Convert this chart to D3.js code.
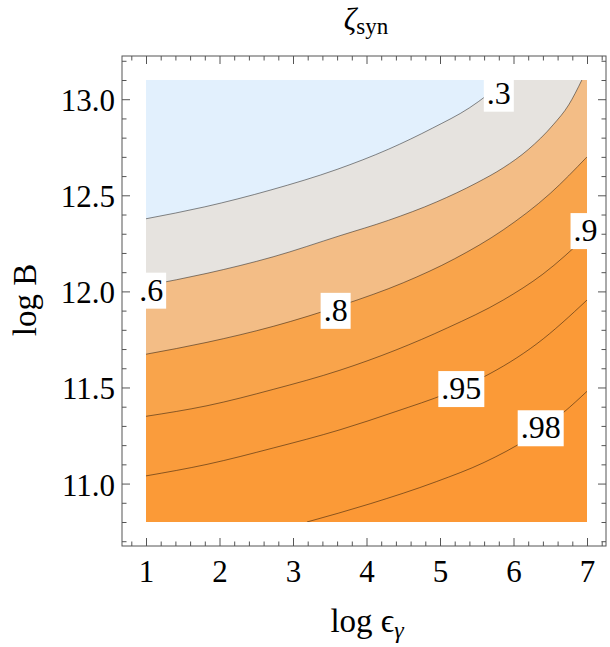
<!DOCTYPE html>
<html>
<head>
<meta charset="utf-8">
<script src="https://cdn.jsdelivr.net/npm/d3@7"></script>
<style>
body{margin:0;background:#fff;}
text{font-family:"Liberation Serif","DejaVu Serif",serif;}
</style>
</head>
<body>
<script>
// contour levels and the fill colour below each one (region with zeta < level)
var levels=[0.3,0.6,0.8,0.9,0.95,0.98]
var bandColors=["#e2f0fd","#e6e3df","#f3bd86","#f9a44b","#fa9c3c","#fb9a37"]
var topColor="#fc9835"

// contour lines, [log eps, log B]
var line30=[[1,12.378],[1.8,12.44],[2.7,12.528],[3.6,12.635],[4.3,12.74],[4.9,12.85],[5.4,12.955],[5.9,13.1]]
var line60=[[1,12.03],[1.83,12.094],[2.73,12.18],[3.64,12.29],[4.3,12.37],[4.95,12.465],[5.5,12.565],[5.86,12.643],[6.2,12.738],[6.54,12.867],[6.75,12.97],[6.93,13.1]]
var line80=[[1,11.673],[1.83,11.735],[2.73,11.818],[3.68,11.93],[4.5,12.045],[5.2,12.17],[5.86,12.32],[6.5,12.51],[7,12.70]]
var line90=[[1,11.35],[1.83,11.405],[2.73,11.49],[3.64,11.59],[4.4,11.695],[5.1,11.81],[5.86,11.955],[6.4,12.09],[7,12.29]]
var line95=[[1,11.04],[1.83,11.10],[2.73,11.185],[3.64,11.28],[4.4,11.375],[5.1,11.47],[5.59,11.554],[6.32,11.728],[7,11.955]]
var line98=[[3.19,10.8],[4.05,10.895],[4.95,11.01],[5.6,11.11],[6.2,11.235],[6.68,11.37],[7,11.48]]
var contourLines=[line30,line60,line80,line90,line95,line98]

var labelText=[".3",".6",".8",".9",".95",".98"]
var labelX=[5.80,1.07,3.58,6.98,5.29,6.37]
var labelY=[13.035,12.01,11.905,12.32,11.498,11.294]

var xTicks=[1,2,3,4,5,6,7]
var yTicks=[11.0,11.5,12.0,12.5,13.0]

var screen={width:610,height:647}
var frame={left:122,right:606,top:56,bottom:546}
var xScale=d3.scaleLinear().domain([1,7]).range([146,587])
var yScale=d3.scaleLinear().domain([10.8,13.1]).range([522,80])

var svg=d3.select("body").append("svg")
          .attr("width",screen.width)
          .attr("height",screen.height)

svg.append("clipPath").attr("id","plotClip")
   .append("rect")
   .attr("x",xScale(1)).attr("y",yScale(13.1))
   .attr("width",xScale(7)-xScale(1))
   .attr("height",yScale(10.8)-yScale(13.1))

var plotLand=svg.append("g").attr("clip-path","url(#plotClip)")

var lineGen=d3.line()
              .x(function(d){return xScale(d[0]);})
              .y(function(d){return yScale(d[1]);})
              .curve(d3.curveMonotoneX)

// area on the low side (up-left) of a contour line
var bandPath=function(pts){
  var p=lineGen(pts)
  var last=pts[pts.length-1], first=pts[0]
  if(last[0]>=7&&last[1]<13.1){p+="L"+xScale(7)+","+yScale(13.1)}
  p+="L"+xScale(1)+","+yScale(13.1)
  if(first[0]>1){p+="L"+xScale(1)+","+yScale(10.8)}
  return p+"Z"}

plotLand.append("rect")
        .attr("x",xScale(1)).attr("y",yScale(13.1))
        .attr("width",xScale(7)-xScale(1))
        .attr("height",yScale(10.8)-yScale(13.1))
        .attr("fill",topColor)

// paint from the highest level down so lower bands sit on top
var order=d3.range(levels.length).reverse()
plotLand.selectAll("path.band")
        .data(order)
        .enter()
        .append("path")
        .classed("band",true)
        .attr("d",function(i){return bandPath(contourLines[i]);})
        .attr("fill",function(i){return bandColors[i];})

plotLand.selectAll("path.cline")
        .data(contourLines)
        .enter()
        .append("path")
        .classed("cline",true)
        .attr("d",function(d){return lineGen(d);})
        .attr("fill","none")
        .attr("stroke","#000")
        .attr("stroke-opacity",0.5)
        .attr("stroke-width",0.9)

// contour labels on white boxes
var labels=svg.append("g").selectAll("g")
              .data(labelText)
              .enter()
              .append("g")
              .attr("transform",function(d,i){return "translate("+xScale(labelX[i])+","+yScale(labelY[i])+")";})
labels.append("rect").attr("fill","#fff")
labels.append("text")
      .attr("text-anchor","middle")
      .attr("dy","0.35em")
      .attr("font-size",32)
      .attr("fill","#000")
      .text(function(d){return d;})
labels.each(function(){
  var g=d3.select(this)
  var b=g.select("text").node().getBBox()
  g.select("rect").attr("x",b.x-3).attr("y",b.y+1).attr("width",b.width+6).attr("height",b.height)
})

// frame and ticks
var axisColor="#555"
var xMinor=d3.range(4,37).map(function(i){return i/5;}).filter(function(v){return Math.abs(v-Math.round(v))>1e-6;})
var yMinor=d3.range(107,133).map(function(i){return i/10;}).filter(function(v){return Math.abs(v*2-Math.round(v*2))>1e-6;})

var styleAxis=function(g){
  g.select(".domain").remove()
  g.selectAll("line").attr("stroke",axisColor)
  g.selectAll("text").attr("font-size",31).attr("fill","#000").attr("font-family","Liberation Serif")}

svg.append("g").attr("transform","translate(0,"+frame.bottom+")")
   .call(d3.axisBottom(xScale).tickValues(xTicks).tickSize(-8).tickPadding(14).tickFormat(d3.format("d"))).call(styleAxis)
svg.append("g").attr("transform","translate(0,"+frame.bottom+")")
   .call(d3.axisBottom(xScale).tickValues(xMinor).tickSize(-4.5).tickFormat("")).call(styleAxis)
svg.append("g").attr("transform","translate(0,"+frame.top+")")
   .call(d3.axisTop(xScale).tickValues(xTicks).tickSize(-8).tickFormat("")).call(styleAxis)
svg.append("g").attr("transform","translate(0,"+frame.top+")")
   .call(d3.axisTop(xScale).tickValues(xMinor).tickSize(-4.5).tickFormat("")).call(styleAxis)

var yLeft=svg.append("g").attr("transform","translate("+frame.left+",0)")
   .call(d3.axisLeft(yScale).tickValues(yTicks).tickSize(-8).tickPadding(7).tickFormat(d3.format(".1f"))).call(styleAxis)
yLeft.selectAll("text").attr("dy","0.37em")
svg.append("g").attr("transform","translate("+frame.left+",0)")
   .call(d3.axisLeft(yScale).tickValues(yMinor).tickSize(-4.5).tickFormat("")).call(styleAxis)
svg.append("g").attr("transform","translate("+frame.right+",0)")
   .call(d3.axisRight(yScale).tickValues(yTicks).tickSize(-8).tickFormat("")).call(styleAxis)
svg.append("g").attr("transform","translate("+frame.right+",0)")
   .call(d3.axisRight(yScale).tickValues(yMinor).tickSize(-4.5).tickFormat("")).call(styleAxis)

svg.append("rect")
   .attr("x",frame.left).attr("y",frame.top)
   .attr("width",frame.right-frame.left)
   .attr("height",frame.bottom-frame.top)
   .attr("fill","none")
   .attr("stroke",axisColor)
   .attr("stroke-width",1)

// title and axis labels
var title=svg.append("text")
             .attr("x",366).attr("y",30)
             .attr("text-anchor","middle")
             .attr("font-size",31)
title.append("tspan").attr("font-style","italic").text("ζ")
title.append("tspan").attr("font-size",23).attr("dy",4).text("syn")

var xLabel=svg.append("text")
              .attr("x",367).attr("y",632)
              .attr("text-anchor","middle")
              .attr("font-size",33)
xLabel.append("tspan").text("log ϵ")
xLabel.append("tspan").attr("font-size",24).attr("font-style","italic").attr("dy",6).text("γ")

svg.append("text")
   .attr("transform","translate(36,300) rotate(-90)")
   .attr("text-anchor","middle")
   .attr("font-size",33)
   .text("log B")
</script>
</body>
</html>
